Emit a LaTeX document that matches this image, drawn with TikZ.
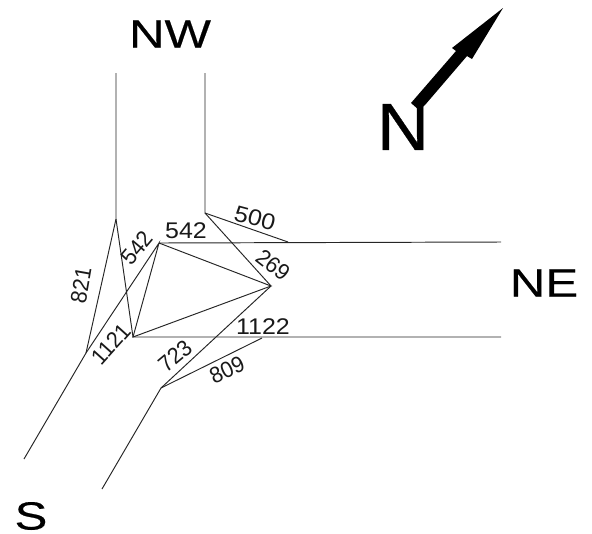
\documentclass[tikz,border=0pt]{standalone}
\usepackage{fontspec}
\setmainfont{Liberation Sans}
\newfontfamily\dimwide[FakeStretch=1.1]{Liberation Sans}
\newfontfamily\dimrot[FakeStretch=0.95]{Liberation Sans}
\newfontfamily\dirwide[FakeStretch=1.25,FakeBold=0.4]{Liberation Sans}
\newfontfamily\northfont[FakeStretch=1.08,FakeBold=0.5]{Liberation Sans}
\tikzset{
  road/.style={line width=0.72pt,draw=black!85},
  dim/.style={inner sep=0pt,font=\dimwide\fontsize{17}{19}\selectfont,text=black!90},
  dimr/.style={inner sep=0pt,font=\dimrot\fontsize{17}{19}\selectfont,text=black!90},
  dir/.style={inner sep=0pt,font=\dirwide\fontsize{29.5}{31}\selectfont},
}
\begin{document}
\begin{tikzpicture}[x=0.75pt,y=-0.75pt]
\useasboundingbox (0,0) rectangle (592,533);
\coordinate (nwl) at (116,73);
\coordinate (nwlc) at (116,219);
\coordinate (nwr) at (205,73);
\coordinate (nwrc) at (205,213);
\coordinate (neu1) at (288,242);
\coordinate (nel1) at (501,242);
\coordinate (d) at (159,243);
\coordinate (e) at (271,286);
\coordinate (f) at (133,337);
\coordinate (ner) at (501,337);
\coordinate (g) at (86,353);
\coordinate (sl) at (24,459);
\coordinate (h) at (161,388);
\coordinate (sr) at (102,489);
\coordinate (i) at (262,338);
\draw[road] (nwl) -- (nwlc) -- (g) -- (sl);
\draw[road] (nwlc) -- (f) -- (ner);
\draw[road] (nwr) -- (nwrc) -- (neu1);
\draw[road] (nwrc) -- (e);
\draw[road] (d) -- (nel1);
\draw[road] (g) -- (d) -- (f) -- (e) -- (d);
\draw[road] (sr) -- (h) -- (e);
\draw[road] (h) -- (i);
\node[dimr,rotate=80] (t821) at (81,285) {821};
\node[dimr,rotate=50] (t542a) at (137,248) {542};
\node[dim] (t542b) at (186,231) {542};
\node[dim,rotate=-15] (t500) at (255,218) {500};
\node[dimr,rotate=-38] (t269) at (273,265) {269};
\node[dimr,rotate=48] (t1121) at (111,344) {1121};
\node[dimr,rotate=40] (t723) at (175,356) {723};
\node[dim] (t1122) at (263,327) {1122};
\node[dimr,rotate=25] (t809) at (227,370) {809};
\node[dir] (nw) at (170,34) {NW};
\node[dir] (ne) at (544,283) {NE};
\node[dir] (s) at (31,516) {S};
\node[inner sep=0pt,font=\northfont\fontsize{50}{52}\selectfont] (n) at (403,127) {N};
\fill[black] (411,103) -- (456,51) -- (452,48) -- (503,8) -- (472,59) -- (467,56) -- (425,105) -- (419,110) -- cycle;
\end{tikzpicture}
\end{document}
